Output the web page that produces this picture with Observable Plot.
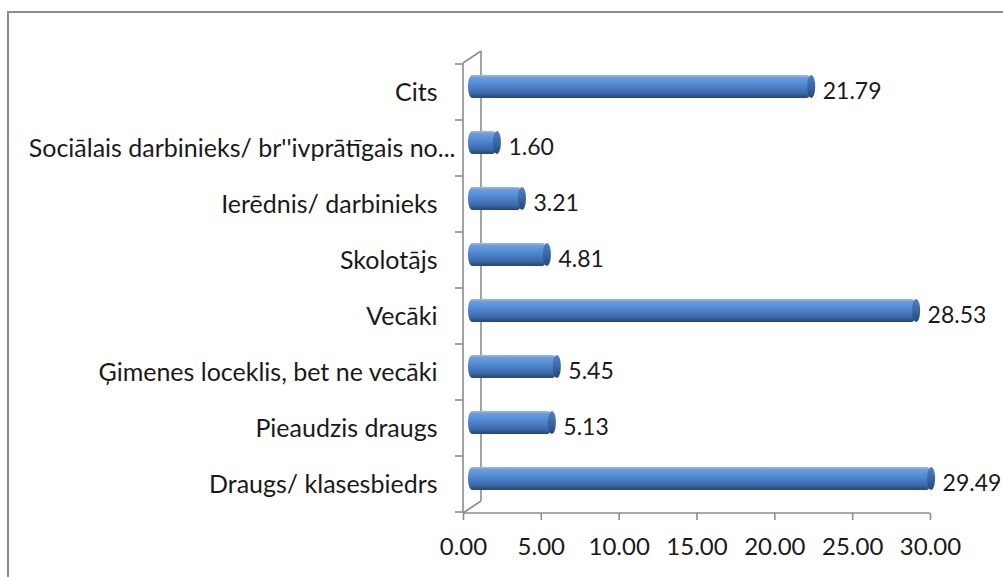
<!DOCTYPE html>
<html>
<head>
<meta charset="utf-8">
<script src="https://cdn.jsdelivr.net/npm/d3@7"></script>
<script src="https://cdn.jsdelivr.net/npm/@observablehq/plot@0.6"></script>
<style>
  html, body { margin: 0; padding: 0; background: #ffffff; overflow: hidden; }
  #frame { position: absolute; left: 7px; top: 11px; width: 1200px; height: 800px;
           border: 2px solid #8c8c8c; box-sizing: border-box; }
  #chart { position: absolute; left: 0; top: 0; }
  #chart svg { background: transparent; }
</style>
</head>
<body>
<div id="frame"></div>
<div id="chart"></div>
<script>
const categories = [
  "Cits",
  "Sociālais darbinieks/ br''ivprātīgais no...",
  "Ierēdnis/ darbinieks",
  "Skolotājs",
  "Vecāki",
  "Ģimenes loceklis, bet ne vecāki",
  "Pieaudzis draugs",
  "Draugs/ klasesbiedrs"
];
const values = [21.79, 1.60, 3.21, 4.81, 28.53, 5.45, 5.13, 29.49];
const xTicks = [0, 5, 10, 15, 20, 25, 30];

const data = categories.map((c, i) => ({category: c, value: values[i]}));
const longLabel = categories[1];

const depthX = 18, depthY = -12;   // 3-D wall depth in pixels
const barDx = 9, barDy = -6;       // bars sit midway in the depth
const axisColor = "#8c8c8c";
const textColor = "#1a1a1a";

function defs() {
  const d = d3.create("svg:defs");
  const g = d.append("linearGradient").attr("id", "cyl").attr("x1", 0).attr("y1", 0).attr("x2", 0).attr("y2", 1);
  [[0, "#9dbde8"], [0.12, "#6b9bdb"], [0.45, "#4f86cf"], [0.8, "#3a68a9"], [1, "#24467a"]]
    .forEach(([o, c]) => g.append("stop").attr("offset", o).attr("stop-color", c));
  const g2 = d.append("linearGradient").attr("id", "cap").attr("x1", 0).attr("y1", 0).attr("x2", 0).attr("y2", 1);
  [[0, "#5480bf"], [0.5, "#3a68a6"], [1, "#234677"]]
    .forEach(([o, c]) => g2.append("stop").attr("offset", o).attr("stop-color", c));
  return d.node();
}

function walls(index, scales, values, dimensions) {
  const {x, y} = scales;
  const x0 = x(0), x1 = x(30);
  const top = dimensions.marginTop;
  const bottom = dimensions.height - dimensions.marginBottom;
  const g = d3.create("svg:g").attr("fill", "none").attr("stroke", axisColor).attr("stroke-width", 1.6);
  g.append("line").attr("x1", x0 + depthX).attr("x2", x0 + depthX).attr("y1", top + depthY).attr("y2", bottom + depthY);
  g.append("line").attr("x1", x0).attr("x2", x0 + depthX).attr("y1", top).attr("y2", top + depthY);
  g.append("line").attr("x1", x0).attr("x2", x0 + depthX).attr("y1", bottom).attr("y2", bottom + depthY);
  g.append("line").attr("x1", x0).attr("x2", x0).attr("y1", top).attr("y2", bottom);
  const bw = y.bandwidth();
  const dom = y.domain();
  const bounds = dom.map(c => y(c)).concat([y(dom[dom.length - 1]) + bw]);
  bounds.forEach(b => g.append("line").attr("x1", x0 - 8).attr("x2", x0).attr("y1", b).attr("y2", b));
  g.append("line").attr("x1", x0).attr("x2", x1).attr("y1", bottom).attr("y2", bottom);
  return g.node();
}

const plot = Plot.plot({
  width: 1003,
  height: 577,
  marginLeft: 463,
  marginRight: 73,
  marginTop: 63,
  marginBottom: 64,
  style: {fontFamily: "Lato, 'DejaVu Sans', sans-serif", fontSize: "24px", color: textColor, background: "transparent"},
  x: {domain: [0, 30], ticks: xTicks, tickFormat: d3.format(".2f")},
  y: {type: "band", domain: categories, padding: 0},
  marks: [
    defs,
    walls,
    Plot.axisX({ticks: xTicks, tickFormat: d3.format(".2f"), tickSize: 7, tickPadding: 17, stroke: axisColor,
      strokeWidth: 1.6, label: null, fill: textColor, fontSize: 24}),
    Plot.axisY({ticks: categories.filter(c => c !== longLabel), tickSize: 0, tickPadding: 26, label: null,
      fill: textColor, fontSize: 25}),
    Plot.axisY({ticks: [longLabel], tickSize: 0, tickPadding: 8, label: null, fill: textColor, fontSize: 25}),
    Plot.barX(data, {x: "value", y: "category", fill: "url(#cyl)", insetTop: 17, insetBottom: 16,
      insetLeft: -4, dx: barDx, dy: barDy, rx: 4, ry: 11}),
    Plot.barX(data, {x1: "value", x2: "value", y: "category", fill: "url(#cap)", insetTop: 17, insetBottom: 16,
      insetLeft: -4, insetRight: -4, dx: barDx, dy: barDy, rx: 4, ry: 11}),
    Plot.text(data, {x: "value", y: "category", text: d => d3.format(".2f")(d.value), textAnchor: "start",
      dx: 20, dy: -1, fill: textColor, fontSize: 23})
  ]
});
document.getElementById("chart").appendChild(plot);
</script>
</body>
</html>
